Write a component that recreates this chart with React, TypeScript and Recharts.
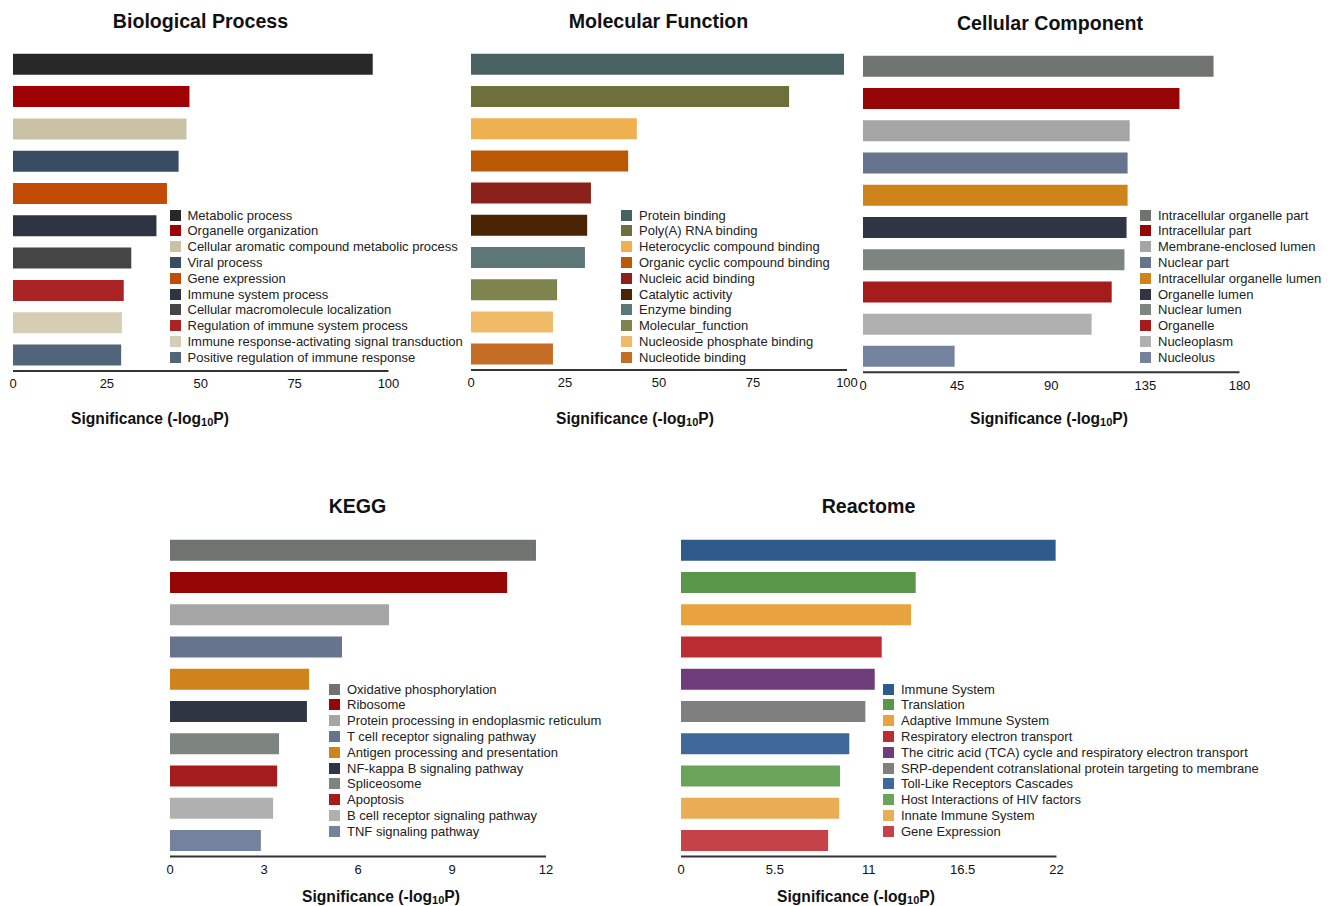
import React from 'react';
import { BarChart, Bar, XAxis, YAxis, Cell } from 'recharts';

const FONT = '"Liberation Sans", Arial, Helvetica, sans-serif';

// Biological Process
const bpTerms = [
  'Metabolic process',
  'Organelle organization',
  'Cellular aromatic compound metabolic process',
  'Viral process',
  'Gene expression',
  'Immune system process',
  'Cellular macromolecule localization',
  'Regulation of immune system process',
  'Immune response-activating signal transduction',
  'Positive regulation of immune response',
];
const bpValues = [95.8, 47.0, 46.2, 44.1, 41.0, 38.2, 31.5, 29.5, 29.0, 28.8];
const bpColors = ['#282828', '#9e0202', '#cbc1a6', '#384d63', '#c24c05', '#2e3442', '#454545', '#aa2426', '#d5cdb4', '#51657a'];
const bpTicks = [0, 25, 50, 75, 100];

// Molecular Function
const mfTerms = [
  'Protein binding',
  'Poly(A) RNA binding',
  'Heterocyclic compound binding',
  'Organic cyclic compound binding',
  'Nucleic acid binding',
  'Catalytic activity',
  'Enzyme binding',
  'Molecular_function',
  'Nucleoside phosphate binding',
  'Nucleotide binding',
];
const mfValues = [99.2, 84.6, 44.1, 41.8, 31.9, 30.9, 30.3, 22.9, 21.8, 21.8];
const mfColors = ['#4a6163', '#6d703b', '#efb150', '#bb5806', '#8a211b', '#4b2503', '#5d7677', '#7f834d', '#f0bb68', '#c66d25'];
const mfTicks = [0, 25, 50, 75, 100];

// Cellular Component
const ccTerms = [
  'Intracellular organelle part',
  'Intracellular part',
  'Membrane-enclosed lumen',
  'Nuclear part',
  'Intracellular organelle lumen',
  'Organelle lumen',
  'Nuclear lumen',
  'Organelle',
  'Nucleoplasm',
  'Nucleolus',
];
const ccValues = [167.6, 151.3, 127.5, 126.5, 126.5, 126.0, 125.0, 118.9, 109.3, 43.8];
const ccColors = ['#6f7471', '#970606', '#a5a5a5', '#67748d', '#ce841b', '#2f3542', '#7e8581', '#a51c1c', '#b0b0b0', '#75829d'];
const ccTicks = [0, 45, 90, 135, 180];

// KEGG
const keggTerms = [
  'Oxidative phosphorylation',
  'Ribosome',
  'Protein processing in endoplasmic reticulum',
  'T cell receptor signaling pathway',
  'Antigen processing and presentation',
  'NF-kappa B signaling pathway',
  'Spliceosome',
  'Apoptosis',
  'B cell receptor signaling pathway',
  'TNF signaling pathway',
];
const keggValues = [11.68, 10.76, 6.99, 5.49, 4.44, 4.37, 3.48, 3.42, 3.29, 2.9];
const keggColors = ['#6f7471', '#970606', '#a5a5a5', '#67748d', '#ce841b', '#2f3542', '#7e8581', '#a51c1c', '#b0b0b0', '#75829d'];
const keggTicks = [0, 3, 6, 9, 12];

// Reactome
const reactomeTerms = [
  'Immune System',
  'Translation',
  'Adaptive Immune System',
  'Respiratory electron transport',
  'The citric acid (TCA) cycle and respiratory electron transport',
  'SRP-dependent cotranslational protein targeting to membrane',
  'Toll-Like Receptors Cascades',
  'Host Interactions of HIV factors',
  'Innate Immune System',
  'Gene Expression',
];
const reactomeValues = [21.95, 13.75, 13.48, 11.76, 11.35, 10.8, 9.86, 9.32, 9.27, 8.62];
const reactomeColors = ['#2e5a8c', '#5b974b', '#e8a33e', '#bb2d32', '#6f3d7c', '#7f7f7f', '#41689b', '#6ca35a', '#e9ad55', '#c54348'];
const reactomeTicks = [0, 5.5, 11, 16.5, 22];

interface PanelProps {
  title: string;
  terms: string[];
  values: number[];
  colors: string[];
  ticks: number[];
  plot: { left: number; top: number; width: number; height: number };
  titlePos: [number, number];
  labelPos: [number, number];
  legendPos: [number, number];
}

function Panel({ title, terms, values, colors, ticks, plot, titlePos, labelPos, legendPos }: PanelProps) {
  const data = terms.map((name, i) => ({ name, value: values[i], color: colors[i] }));
  const mL = 20;
  const mR = 20;
  const mT = 5;
  const axisH = 40;
  return (
    <>
      <div
        style={{
          position: 'absolute',
          left: titlePos[0],
          top: titlePos[1],
          transform: 'translate(-50%, -50%)',
          fontSize: 19.6,
          fontWeight: 'bold',
          color: '#111',
          whiteSpace: 'nowrap',
        }}
      >
        {title}
      </div>
      <div style={{ position: 'absolute', left: plot.left - mL, top: plot.top - mT }}>
        <BarChart
          layout="vertical"
          width={plot.width + mL + mR}
          height={plot.height + mT + axisH}
          data={data}
          margin={{ top: mT, right: mR, left: mL, bottom: 0 }}
          barCategoryGap="18%"
        >
          <XAxis
            type="number"
            domain={[0, ticks[ticks.length - 1]]}
            ticks={ticks}
            interval={0}
            tickLine={false}
            axisLine={{ stroke: '#333', strokeWidth: 2 }}
            tick={{ fontSize: 13, fill: '#111', fontFamily: FONT }}
            height={axisH}
          />
          <YAxis type="category" dataKey="name" hide />
          <Bar dataKey="value" isAnimationActive={false}>
            {data.map((d, i) => (
              <Cell key={i} fill={d.color} />
            ))}
          </Bar>
        </BarChart>
      </div>
      <div
        style={{
          position: 'absolute',
          left: labelPos[0],
          top: labelPos[1],
          transform: 'translate(-50%, -50%)',
          fontSize: 15.6,
          fontWeight: 'bold',
          color: '#111',
          whiteSpace: 'nowrap',
        }}
      >
        Significance (-log<span style={{ fontSize: 11, position: 'relative', top: 2 }}>10</span>P)
      </div>
      {data.map((d, i) => (
        <div
          key={d.name}
          style={{
            position: 'absolute',
            left: legendPos[0],
            top: legendPos[1] + i * 15.8 - 8,
            height: 16,
            display: 'flex',
            alignItems: 'center',
            fontSize: 13,
            color: '#222',
            whiteSpace: 'nowrap',
          }}
        >
          <span style={{ width: 11, height: 11, background: d.color, marginRight: 7, display: 'inline-block' }} />
          {d.name}
        </div>
      ))}
    </>
  );
}

export default function App() {
  return (
    <div
      style={{
        position: 'absolute',
        left: 0,
        top: 0,
        width: 1333,
        height: 906,
        background: '#fff',
        fontFamily: FONT,
      }}
    >
      <Panel
        title="Biological Process"
        terms={bpTerms}
        values={bpValues}
        colors={bpColors}
        ticks={bpTicks}
        plot={{ left: 12.5, top: 47.5, width: 375.5, height: 323 }}
        titlePos={[200.5, 21]}
        labelPos={[150, 419]}
        legendPos={[169.5, 215]}
      />
      <Panel
        title="Molecular Function"
        terms={mfTerms}
        values={mfValues}
        colors={mfColors}
        ticks={mfTicks}
        plot={{ left: 471, top: 48, width: 376, height: 322 }}
        titlePos={[658.5, 21]}
        labelPos={[635, 419]}
        legendPos={[621, 215]}
      />
      <Panel
        title="Cellular Component"
        terms={ccTerms}
        values={ccValues}
        colors={ccColors}
        ticks={ccTicks}
        plot={{ left: 862.5, top: 50.2, width: 376.5, height: 322.3 }}
        titlePos={[1050, 23]}
        labelPos={[1049, 419]}
        legendPos={[1140, 215]}
      />
      <Panel
        title="KEGG"
        terms={keggTerms}
        values={keggValues}
        colors={keggColors}
        ticks={keggTicks}
        plot={{ left: 170, top: 534.2, width: 376, height: 322.5 }}
        titlePos={[357.5, 506]}
        labelPos={[381, 897]}
        legendPos={[329, 689]}
      />
      <Panel
        title="Reactome"
        terms={reactomeTerms}
        values={reactomeValues}
        colors={reactomeColors}
        ticks={reactomeTicks}
        plot={{ left: 680.5, top: 534.2, width: 375.5, height: 322.5 }}
        titlePos={[868.5, 506]}
        labelPos={[856, 897]}
        legendPos={[883, 689]}
      />
    </div>
  );
}
